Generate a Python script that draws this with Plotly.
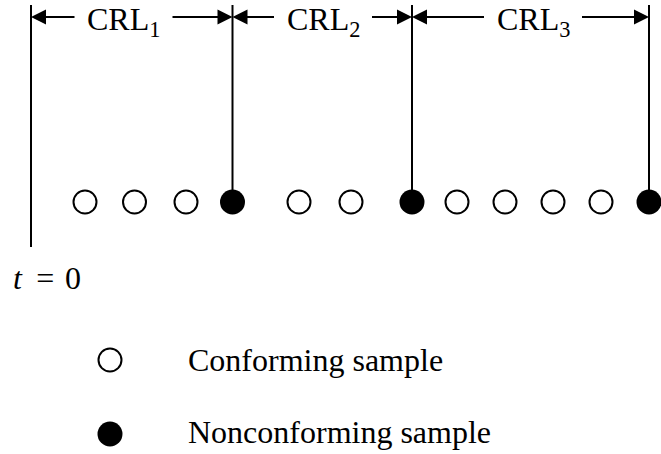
import plotly.graph_objects as go

# ---- data ----
sample_t = [1.08, 2.07, 3.10, 4.03, 5.36, 6.40, 7.62, 8.52, 9.48, 10.44, 11.40, 12.36]
sample_status = ["C", "C", "C", "N", "C", "C", "N", "C", "C", "C", "C", "N"]
crl_labels = ["CRL<sub>1</sub>", "CRL<sub>2</sub>", "CRL<sub>3</sub>"]
crl_label_t = [1.85, 5.84, 10.04]
legend_labels = ["Conforming sample", "Nonconforming sample"]
origin_label = "<i>t</i> \u2009=\u200a 0"

# ---- layout constants ----
FONT = dict(family="Liberation Serif, Times New Roman, serif", size=32, color="black")
ROW_Y = 202
TOP_Y = 5
ORIGIN_BOTTOM = 247
ARROW_Y = 17
LABEL_Y = 21
LABEL_HALF = 0.95
LEGEND_X = 1.58
LEGEND_Y = [360, 434]
LEGEND_TEXT_Y = [360, 432]
LEGEND_TEXT_X = 3.1

boundaries = [0.0] + [t for t, s in zip(sample_t, sample_status) if s == "N"]

fig = go.Figure()

# vertical lines
lx, ly = [], []
for i, b in enumerate(boundaries):
    lx += [b, b, None]
    ly += [TOP_Y, ORIGIN_BOTTOM if i == 0 else ROW_Y, None]
fig.add_trace(go.Scatter(x=lx, y=ly, mode="lines", line=dict(color="black", width=2),
                         hoverinfo="skip"))

# samples
conf_t = [t for t, s in zip(sample_t, sample_status) if s == "C"]
non_t = [t for t, s in zip(sample_t, sample_status) if s == "N"]
fig.add_trace(go.Scatter(x=conf_t, y=[ROW_Y] * len(conf_t), mode="markers",
                         marker=dict(symbol="circle", size=23, color="white",
                                     line=dict(color="black", width=2)),
                         name=legend_labels[0]))
fig.add_trace(go.Scatter(x=non_t, y=[ROW_Y] * len(non_t), mode="markers",
                         marker=dict(symbol="circle", size=25, color="black",
                                     line=dict(color="black", width=0)),
                         name=legend_labels[1]))

# legend markers
fig.add_trace(go.Scatter(x=[LEGEND_X], y=[LEGEND_Y[0]], mode="markers",
                         marker=dict(symbol="circle", size=23, color="white",
                                     line=dict(color="black", width=2)), hoverinfo="skip"))
fig.add_trace(go.Scatter(x=[LEGEND_X], y=[LEGEND_Y[1]], mode="markers",
                         marker=dict(symbol="circle", size=25, color="black",
                                     line=dict(color="black", width=0)), hoverinfo="skip"))

annotations = []
for i, lab in enumerate(crl_labels):
    a, b = boundaries[i], boundaries[i + 1]
    m = crl_label_t[i]
    annotations.append(dict(x=m, y=LABEL_Y, text=lab, showarrow=False, font=FONT,
                            xanchor="center", yanchor="middle"))
    for head, tail in ((a, m - LABEL_HALF), (b, m + LABEL_HALF)):
        annotations.append(dict(x=head, y=ARROW_Y, ax=tail, ay=ARROW_Y, axref="x", ayref="y",
                                xref="x", yref="y", text="", showarrow=True,
                                arrowhead=2, arrowsize=1.5, arrowwidth=2,
                                arrowcolor="black", standoff=0))

annotations.append(dict(x=-0.40, y=278, text=origin_label, showarrow=False, font=FONT,
                        xanchor="left", yanchor="middle"))
for lab, yy in zip(legend_labels, LEGEND_TEXT_Y):
    annotations.append(dict(x=LEGEND_TEXT_X, y=yy, text=lab, showarrow=False, font=FONT,
                            xanchor="left", yanchor="middle"))

fig.update_layout(
    width=661, height=454,
    margin=dict(l=0, r=0, t=0, b=0),
    paper_bgcolor="white", plot_bgcolor="white",
    showlegend=False,
    xaxis=dict(range=[-0.62, 12.6], visible=False, fixedrange=True),
    yaxis=dict(range=[454, 0], visible=False, fixedrange=True),
    annotations=annotations,
    font=FONT,
)

fig.write_html("out.html",
               config={"displayModeBar": False, "staticPlot": True},
               post_script="document.body.style.margin='0px';document.body.style.overflow='hidden';")
